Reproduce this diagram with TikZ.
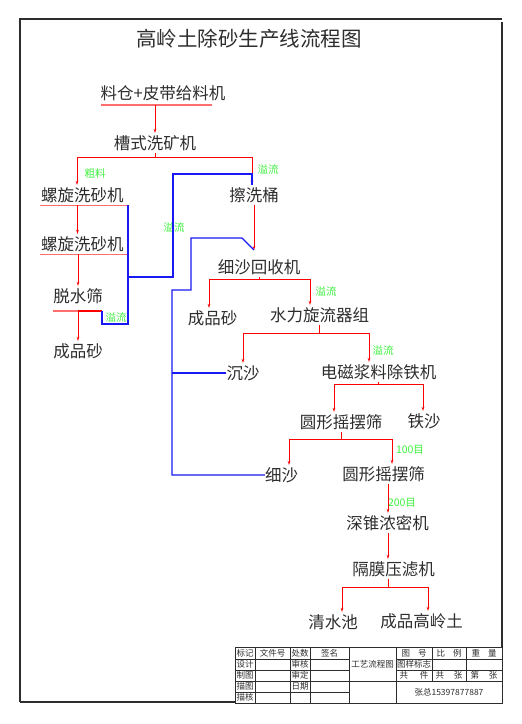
\documentclass[tikz,border=0pt]{standalone}
\usepackage{fontspec}
\setmainfont{Noto Sans CJK SC}
\usepackage{xcolor}
\usetikzlibrary{arrows.meta, positioning}
\definecolor{flowred}{RGB}{255,0,0}
\definecolor{linepink}{RGB}{255,110,110}
\definecolor{ovblue}{RGB}{25,25,245}
\definecolor{ovgreen}{RGB}{60,240,60}
\definecolor{inkgray}{RGB}{45,45,45}

\begin{document}
\begin{tikzpicture}[
    x=1pt, y=-1pt,
    stage/.style={inner xsep=0pt, inner ysep=2pt, text height=14pt, text depth=2pt, text=inkgray, font=\fontsize{16.5}{18}\selectfont},
    tag/.style={inner sep=0pt, text=ovgreen, font=\fontsize{10.5}{12}\selectfont},
    cell/.style={inner sep=0pt, text=inkgray, font=\fontsize{8.5}{9}\selectfont},
    flow/.style={draw=flowred, line width=1pt, -{Stealth[length=4pt, width=2.6pt]}},
    branch/.style={draw=flowred, line width=1pt},
    uline/.style={draw=linepink, line width=1.3pt},
    back/.style={draw=ovblue, line width=1.1pt},
    frame/.style={draw=inkgray, line width=1.4pt},
    grid/.style={draw=inkgray, line width=0.7pt}
]
\useasboundingbox (0,0) rectangle (522,724);

% Sheet frame
\draw[frame] (20,702) -- (20,19) -- (502,19);
\draw[frame] (502,22) -- (502,647);
\draw[frame] (20,702) -- (235,702);

% Title
\node[stage, font=\fontsize{20.5}{22}\selectfont] (title) at (249,40) {高岭土除砂生产线流程图};

% Process stages
\node[stage] (feeder) at (163,93) {料仓+皮带给料机};
\node[stage] (washer) at (155,143) {槽式洗矿机};
\node[stage] (spiralA) at (82.5,195) {螺旋洗砂机};
\node[stage] (spiralB) at (82.5,244) {螺旋洗砂机};
\node[stage] (dewater) at (78,296) {脱水筛};
\node[stage] (sandA) at (78,351) {成品砂};
\node[stage] (scrub) at (254,195) {擦洗桶};
\node[stage] (recov) at (259,267) {细沙回收机};
\node[stage] (sandB) at (212.5,318) {成品砂};
\node[stage] (cyclone) at (319.5,315) {水力旋流器组};
\node[stage] (settle) at (243,373) {沉沙};
\node[stage] (iron) at (378.5,372) {电磁浆料除铁机};
\node[stage] (screenA) at (341,422) {圆形摇摆筛};
\node[stage] (ironsand) at (424,421) {铁沙};
\node[stage] (fine) at (281.5,475) {细沙};
\node[stage] (screenB) at (383.5,474) {圆形摇摆筛};
\node[stage] (thick) at (387.5,523) {深锥浓密机};
\node[stage] (press) at (393.5,569) {隔膜压滤机};
\node[stage] (pool) at (333,622) {清水池};
\node[stage] (kaolin) at (421.5,621) {成品高岭土};

% Stream labels
\node[tag] (tagCoarse) at (95,173) {粗料};
\node[tag] (tagOvA) at (268,169) {溢流};
\node[tag] (tagOvB) at (174,227) {溢流};
\node[tag] (tagOvC) at (116,317) {溢流};
\node[tag] (tagOvD) at (326,291) {溢流};
\node[tag] (tagOvE) at (383,350) {溢流};
\node[tag] (tagMeshA) at (410,450) {100目};
\node[tag] (tagMeshB) at (402,503) {200目};

% Underlines
\coordinate (feedL) at (101,105);
\coordinate (feedR) at (212,105);
\draw[uline] (feedL) -- (feedR);
\draw[uline] ([xshift=-1.5]spiralA.south west) -- ([xshift=4.5]spiralA.south east);
\draw[uline] ([xshift=-1]spiralB.south west) -- ([xshift=4.5]spiralB.south east);
\coordinate (dwL) at (53,311);
\coordinate (dwM) at (78,311);
\coordinate (dwR) at (102,311);
\draw[uline] (dwL) -- (dwR);
\draw[branch, line width=1.6pt] (dwM) -- (dwR);

% Junctions
\coordinate (wj) at (155,157.5);
\coordinate (rin) at (254,250);
\coordinate (rj) at (259,279.5);
\coordinate (cj) at (319.5,333.5);
\coordinate (ij) at (378.5,384.5);
\coordinate (sj) at (341,439.5);
\coordinate (pj) at (388,587.5);

% Main flow
\draw[flow] (feedL -| washer.north) -- (washer.north);
\draw[branch] (washer.south) -- (wj);
\draw[flow] (wj) -| ([xshift=-5.5]spiralA.north);
\draw[flow] (wj) -| ([xshift=-2]scrub.north);
\draw[flow] ([xshift=-5]spiralA.south) -- ([xshift=-5]spiralB.north);
\draw[flow] ([xshift=-4.5]spiralB.south) -- (dewater.north);
\draw[flow] (dwM) -- (sandA.north);
\draw[flow] (scrub.south) -- (rin);
\draw[branch] (recov.south) -- (rj);
\draw[flow] (rj) -| ([xshift=-3.5]sandB.north);
\draw[flow] (rj) -| ([xshift=-9.5]cyclone.north);
\draw[branch] (cyclone.south) -- (cj);
\draw[flow] (cj) -| (settle.north);
\draw[flow] (cj) -| ([xshift=-9.5]iron.north);
\draw[branch] (iron.south) -- (ij);
\draw[flow] (ij) -| ([xshift=-7]screenA.north);
\draw[flow] (ij) -| ([xshift=-1]ironsand.north);
\draw[branch] (screenA.south) -- (sj);
\draw[flow] (sj) -| ([xshift=7.5]fine.north);
\draw[flow] (sj) -| ([xshift=8.5]screenB.north);
\draw[flow] ([xshift=4.5]screenB.south) -- ([xshift=0.5]thick.north);
\draw[flow] ([xshift=0.5]thick.south) -- ([xshift=-5.5]press.north);
\draw[branch] ([xshift=-5.5]press.south) -- (pj);
\draw[flow] (pj) -| ([xshift=9]pool.north);
\draw[flow] (pj) -| ([xshift=6.5]kaolin.north);

% Overflow returns
\draw[back] (128,205) -- (128,324) -- (dwR |- 0,324) -- (dwR);
\draw[back] (128,277) -| (173,174) -| ([xshift=-2]scrub.north);
\draw[back] (settle.west) -- (172,373);
\draw[back] (fine.west) -- (172,475) -- (172,290) -- (191,290) -- (191,238) -- (242,238) -- (rin);

% Title block
\draw[grid, line width=1pt] (235,647) rectangle (502,703);
\foreach \y in {659,670,681,692} \draw[grid] (235,\y) -- (349,\y);
\foreach \x in {255,290,310,349,396} \draw[grid] (\x,647) -- (\x,703);
\foreach \y in {659,670,681} \draw[grid] (396,\y) -- (502,\y);
\foreach \x in {432,466} \draw[grid] (\x,647) -- (\x,681);
\draw[grid] (349,681) -- (396,681);

\node[cell] (mark) at (245,653) {标记};
\node[cell] (fileno) at (272.5,653) {文件号};
\node[cell] (count) at (300,653) {处数};
\node[cell] (sign) at (329.5,653) {签名};
\node[cell] (dwgno) at (414,653) {图\hspace{8pt}号};
\node[cell] (scale) at (449,653) {比\hspace{8pt}例};
\node[cell] (weight) at (484,653) {重\hspace{8pt}量};
\node[cell] (design) at (245,664.5) {设计};
\node[cell] (review) at (300,664.5) {审核};
\node[cell] (sample) at (414,664.5) {图样标志};
\node[cell] (draft) at (245,675.5) {制图};
\node[cell] (approve) at (300,675.5) {审定};
\node[cell] (total) at (414,675.5) {共\hspace{12pt}件};
\node[cell] (sheets) at (449,675.5) {共\hspace{10pt}张};
\node[cell] (sheetno) at (484,675.5) {第\hspace{10pt}张};
\node[cell] (trace) at (245,686.5) {描图};
\node[cell] (date) at (300,686.5) {日期};
\node[cell] (check) at (245,697.5) {描核};
\node[cell] (dwgname) at (372.5,664) {工艺流程图};
\node[cell] (contact) at (449,692) {张总15397877887};
\end{tikzpicture}
\end{document}
